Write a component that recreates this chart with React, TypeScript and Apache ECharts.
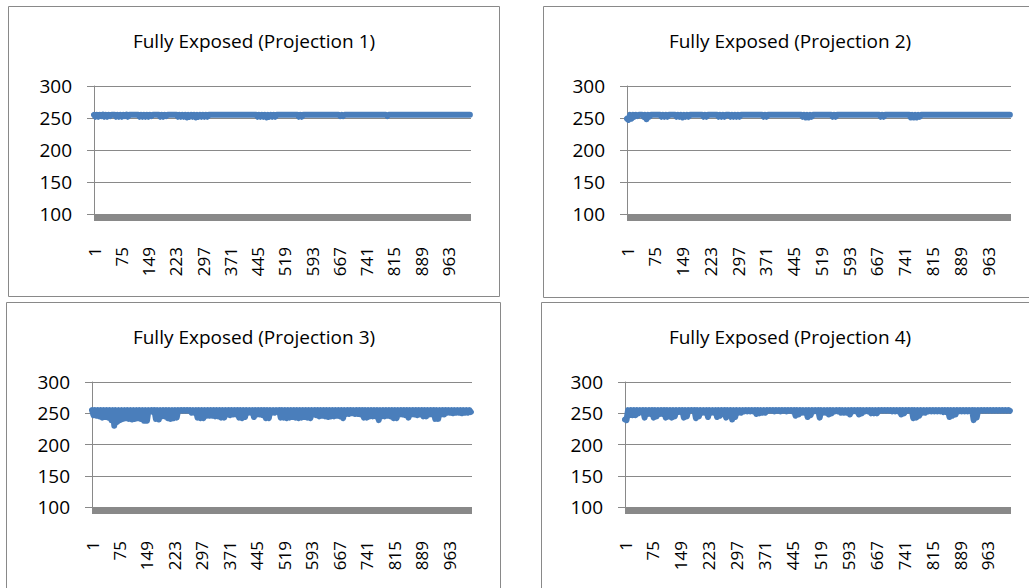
import React, { useEffect, useRef } from "react";
import * as echarts from "echarts";

// Categories 1..1024 (pixel index along the projection)
const categories: string[] = Array.from({ length: 1024 }, (_, k) => String(k + 1));
const sampleStep = 4; // each value below is read at every 4th category

const titles = [
  "Fully Exposed (Projection 1)",
  "Fully Exposed (Projection 2)",
  "Fully Exposed (Projection 3)",
  "Fully Exposed (Projection 4)",
];

const yMin = 100;
const yMax = 300;
const yInterval = 50;

const projection1 = [
  255,252,255,252,255,253,255,252,255,252,255,253,255,255,255,252,
  255,252,255,252,255,253,255,252,255,255,255,255,255,255,255,252,
  255,252,255,252,255,252,255,253,255,255,255,255,255,252,255,252,
  255,253,255,255,255,255,255,255,255,252,255,252,255,252,255,251,
  255,252,255,252,255,251,255,252,255,252,255,252,255,252,255,255,
  255,255,255,255,255,255,255,255,255,255,255,255,255,255,255,255,
  255,255,255,255,255,255,255,255,255,255,255,255,255,255,255,252,
  255,252,255,252,255,251,255,252,255,252,255,252,255,255,255,255,
  255,255,255,255,255,255,255,255,255,255,255,252,255,252,255,255,
  255,255,255,255,255,255,255,255,255,255,255,255,255,255,255,255,
  255,255,255,255,255,255,255,253,255,253,255,255,255,255,255,255,
  255,255,255,255,255,255,255,255,255,255,255,255,255,255,255,255,
  255,255,255,255,255,255,255,253,255,255,255,255,255,255,255,255,
  255,255,255,255,255,255,255,255,255,255,255,255,255,255,255,255,
  255,255,255,255,255,255,255,255,255,255,255,255,255,255,255,255,
  255,255,255,255,255,255,255,255,255,255,255,255,255,255,255,255,
];

const projection2 = [
  249,247,255,249,255,252,255,253,255,255,255,252,255,248,255,252,
  255,255,255,255,255,255,255,252,255,252,255,252,255,255,255,255,
  255,252,255,252,255,251,255,252,255,252,255,255,255,255,255,255,
  255,255,255,252,255,252,255,255,255,255,255,255,255,252,255,252,
  255,252,255,255,255,252,255,252,255,252,255,252,255,255,255,255,
  255,255,255,255,255,255,255,255,255,255,255,252,255,252,255,255,
  255,255,255,255,255,255,255,255,255,255,255,255,255,255,255,255,
  255,255,255,255,255,252,255,251,255,251,255,252,255,255,255,255,
  255,255,255,255,255,255,255,255,255,252,255,252,255,255,255,255,
  255,255,255,255,255,255,255,255,255,255,255,255,255,255,255,255,
  255,255,255,255,255,255,255,255,255,252,255,252,255,255,255,255,
  255,255,255,255,255,255,255,255,255,255,255,255,255,251,255,251,
  255,251,255,252,255,255,255,255,255,255,255,255,255,255,255,255,
  255,255,255,255,255,255,255,255,255,255,255,255,255,255,255,255,
  255,255,255,255,255,255,255,255,255,255,255,255,255,255,255,255,
  255,255,255,255,255,255,255,255,255,255,255,255,255,255,255,255,
];

const projection3 = [
  255,247,255,246,255,245,255,243,255,244,255,243,255,239,255,230,
  255,236,255,239,255,241,255,242,255,241,255,240,255,241,255,242,
  255,241,255,238,255,238,255,253,255,252,255,241,255,240,255,245,
  255,245,255,242,255,241,255,242,255,243,255,254,255,254,255,254,
  255,254,255,251,255,251,255,243,255,242,255,242,255,246,255,246,
  255,246,255,245,255,245,255,243,255,243,255,248,255,247,255,248,
  255,248,255,243,255,242,255,244,255,251,255,251,255,244,255,248,
  255,248,255,247,255,242,255,242,255,251,255,251,255,253,255,243,
  255,243,255,242,255,243,255,244,255,243,255,242,255,243,255,244,
  255,243,255,242,255,248,255,247,255,245,255,246,255,245,255,244,
  255,245,255,245,255,246,255,245,255,242,255,249,255,249,255,250,
  255,249,255,249,255,248,255,243,255,243,255,245,255,245,255,245,
  255,239,255,245,255,245,255,246,255,245,255,242,255,242,255,248,
  255,248,255,247,255,243,255,248,255,248,255,247,255,248,255,245,
  255,245,255,248,255,248,255,241,255,241,255,248,255,248,255,251,
  255,251,255,250,255,251,255,251,255,250,255,251,255,251,255,252,
];

const projection4 = [
  240,239,255,247,255,247,255,247,255,250,255,252,255,243,255,249,
  255,249,255,243,255,245,255,249,255,249,255,243,255,245,255,243,
  255,245,255,252,255,252,255,243,255,245,255,254,255,254,255,242,
  255,245,255,251,255,251,255,244,255,251,255,251,255,244,255,246,
  255,249,255,243,255,246,255,240,255,244,255,251,255,251,255,253,
  255,253,255,253,255,253,255,249,255,250,255,251,255,251,255,254,
  255,254,255,253,255,254,255,253,255,254,255,253,255,254,255,253,
  255,246,255,248,255,251,255,251,255,244,255,247,255,253,255,253,
  255,243,255,251,255,251,255,248,255,250,255,253,255,253,255,251,
  255,251,255,251,255,248,255,253,255,253,255,248,255,250,255,253,
  255,253,255,250,255,250,255,250,255,254,255,254,255,254,255,254,
  255,253,255,253,255,253,255,248,255,250,255,254,255,254,255,242,
  255,243,255,246,255,251,255,251,255,253,255,253,255,253,255,253,
  255,253,255,252,255,252,255,244,255,246,255,248,255,253,255,253,
  255,253,255,253,255,253,255,239,255,243,255,254,255,254,255,254,
  255,254,255,254,255,254,255,254,255,254,255,254,255,254,255,254,
];

const seriesValues = [projection1, projection2, projection3, projection4];

const gridBoxes = [
  { left: 94, top: 86, width: 377, height: 128 },
  { left: 627, top: 86, width: 384, height: 128 },
  { left: 92, top: 382, width: 380, height: 125 },
  { left: 625, top: 382, width: 386, height: 125 },
];
const titlePos = [
  [254, 41],
  [790, 41],
  [254, 337],
  [790, 337],
];
const panelRects = [
  { x: 8.5, y: 6.5, width: 491, height: 290 },
  { x: 543.5, y: 6.5, width: 500, height: 291 },
  { x: 6.5, y: 302.5, width: 494, height: 300 },
  { x: 541.5, y: 302.5, width: 500, height: 300 },
];

const FONT = "'Open Sans', 'Noto Sans', sans-serif";
const GRAY = "#898989";
const BLUE = "#4a7ebb";

export default function App() {
  const ref = useRef<HTMLDivElement>(null);
  useEffect(() => {
    if (!ref.current) return;
    const chart = echarts.init(ref.current, null, { renderer: "svg" });
    const option: any = {
      animation: false,
      backgroundColor: "#fff",
      textStyle: { fontFamily: FONT },
      grid: gridBoxes.map((g) => ({ ...g, containLabel: false })),
      xAxis: gridBoxes.map((_, k) => ({
        type: "category",
        gridIndex: k,
        data: categories,
        boundaryGap: false,
        offset: 3,
        axisLine: { show: true, lineStyle: { color: GRAY, width: 7, cap: "butt" } },
        axisTick: { show: false },
        splitLine: { show: false },
        axisLabel: {
          interval: 73,
          rotate: 90,
          margin: k < 2 ? 30 : 31,
          color: "#000",
          fontSize: 17,
          fontFamily: FONT,
        },
      })),
      yAxis: gridBoxes.map((_, k) => ({
        type: "value",
        gridIndex: k,
        min: yMin,
        max: yMax,
        interval: yInterval,
        axisLine: { show: true, lineStyle: { color: GRAY, width: 1 } },
        axisTick: { show: true, length: 7, lineStyle: { color: GRAY, width: 1 } },
        splitLine: { show: true, lineStyle: { color: GRAY, width: 1 } },
        axisLabel: { margin: 22, color: "#000", fontSize: 19, fontFamily: FONT },
      })),
      series: seriesValues.map((vals, k) => ({
        type: "line",
        name: titles[k],
        xAxisIndex: k,
        yAxisIndex: k,
        data: vals.map((v, i) => [i * sampleStep, v]),
        showSymbol: false,
        symbol: "none",
        clip: false,
        lineStyle: { color: BLUE, width: 6, cap: "round", join: "round" },
        z: 3,
      })),
      graphic: [
        ...panelRects.map((r) => ({
          type: "rect",
          shape: r,
          style: { fill: "none", stroke: GRAY, lineWidth: 1 },
          z: -1,
        })),
        ...titles.map((t, k) => ({
          type: "text",
          x: titlePos[k][0],
          y: titlePos[k][1],
          style: {
            text: t,
            fill: "#000",
            fontSize: 19,
            fontFamily: FONT,
            textAlign: "center",
            textVerticalAlign: "middle",
          },
        })),
      ],
    };
    chart.setOption(option);
    return () => chart.dispose();
  }, []);
  return (
    <div
      ref={ref}
      style={{ position: "fixed", left: 0, top: 0, width: 1029, height: 588, background: "#fff" }}
    />
  );
}
